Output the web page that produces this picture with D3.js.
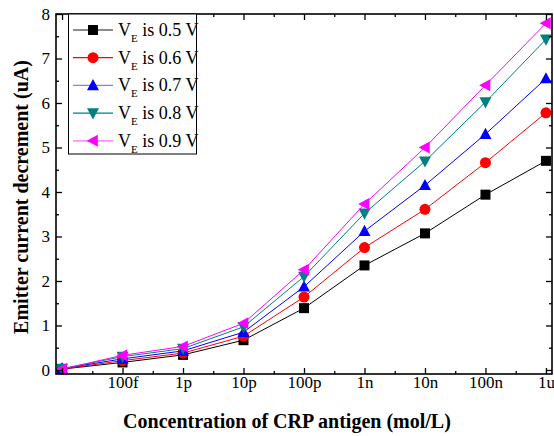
<!DOCTYPE html>
<html><head><meta charset="utf-8">
<script src="https://cdn.jsdelivr.net/npm/d3@7"></script>
<style>body{margin:0;background:#fff}svg{display:block}</style>
</head><body>
<svg id="c" width="554" height="436"></svg>
<script>
const categories = ["", "100f", "1p", "10p", "100p", "1n", "10n", "100n", "1u"];
const seriesNames = ["0.5", "0.6", "0.7", "0.8", "0.9"];
const v05 = [0.02, 0.17, 0.34, 0.67, 1.39, 2.35, 3.07, 3.94, 4.70];
const v06 = [0.02, 0.21, 0.38, 0.76, 1.64, 2.75, 3.61, 4.66, 5.78];
const v07 = [0.03, 0.25, 0.43, 0.85, 1.87, 3.12, 4.15, 5.30, 6.55];
const v08 = [0.03, 0.30, 0.48, 0.97, 2.10, 3.52, 4.69, 6.02, 7.43];
const v09 = [0.02, 0.33, 0.53, 1.05, 2.25, 3.73, 5.00, 6.40, 7.79];
const yTicks = [0, 1, 2, 3, 4, 5, 6, 7, 8];
const colors = ["#000000", "#ff0000", "#0000ff", "#008080", "#ff00ff"];
const legendLineColors = ["#666666", "#ff0000", "#7f7fff", "#008080", "#ff66ff"];
const markers = ["square", "circle", "up", "down", "left"];
const allSeries = [v05, v06, v07, v08, v09];

const svg = d3.select("#c");
const L = 56, R = 552, T = 14, B = 374;
const x = d3.scaleLinear().domain([-0.1, 8.1]).range([L, R]);
const y = d3.scaleLinear().domain([-0.09, 8]).range([B, T]);
const font = '"Liberation Serif","Times New Roman",serif';

function markerPath(type, s) {
  const h = s / 2;
  if (type === "square") return `M${-h},${-h}H${h}V${h}H${-h}Z`;
  if (type === "up") return `M0,${-h*1.05}L${h},${h*0.8}L${-h},${h*0.8}Z`;
  if (type === "down") return `M0,${h*1.05}L${h},${-h*0.8}L${-h},${-h*0.8}Z`;
  if (type === "left") return `M${-h*1.05},0L${h*0.8},${-h}L${h*0.8},${h}Z`;
  return null;
}
function drawMarker(g, type, cx, cy, color) {
  if (type === "circle") {
    g.append("circle").attr("cx", cx).attr("cy", cy).attr("r", 5.5).attr("fill", color);
  } else {
    const s = type === "square" ? 10 : 12;
    g.append("path").attr("d", markerPath(type, s)).attr("transform", `translate(${cx},${cy})`).attr("fill", color);
  }
}

// series
const gData = svg.append("g");
allSeries.forEach((vals, si) => {
  const line = d3.line().x((d, i) => x(i)).y(d => y(d));
  gData.append("path").attr("d", line(vals)).attr("fill", "none").attr("stroke", colors[si]).attr("stroke-width", 1);
  vals.forEach((v, i) => drawMarker(gData, markers[si], x(i), y(v), colors[si]));
});

// axes
const xMajor = d3.range(0, 9);
const xMinor = d3.range(0.5, 8.1, 1);
const yMinor = d3.range(0.5, 8, 1);
function styleAxis(g) {
  g.attr("font-family", null).attr("font-size", null);
  g.select(".domain").remove();
  g.selectAll("line").attr("stroke", "#000").attr("stroke-width", 1.3);
  g.selectAll("text").style("font-family", font).style("font-size", "17px").attr("fill", "#000");
}
const xb = svg.append("g").attr("transform", `translate(0,${B})`)
  .call(d3.axisBottom(x).tickValues(xMajor).tickFormat(i => categories[i]).tickSizeInner(-6).tickPadding(2));
styleAxis(xb);
xb.selectAll("text").attr("dy", "0.71em");
const xbm = svg.append("g").attr("transform", `translate(0,${B})`)
  .call(d3.axisBottom(x).tickValues(xMinor).tickFormat("").tickSizeInner(-3));
styleAxis(xbm);
const xt = svg.append("g").attr("transform", `translate(0,${T})`)
  .call(d3.axisTop(x).tickValues(xMajor).tickFormat("").tickSizeInner(-6));
styleAxis(xt);
const xtm = svg.append("g").attr("transform", `translate(0,${T})`)
  .call(d3.axisTop(x).tickValues(xMinor).tickFormat("").tickSizeInner(-3));
styleAxis(xtm);
const yl = svg.append("g").attr("transform", `translate(${L},0)`)
  .call(d3.axisLeft(y).tickValues(yTicks).tickFormat(d3.format("d")).tickSizeInner(-6).tickPadding(6));
styleAxis(yl);
const ylm = svg.append("g").attr("transform", `translate(${L},0)`)
  .call(d3.axisLeft(y).tickValues(yMinor).tickFormat("").tickSizeInner(-3));
styleAxis(ylm);
const yr = svg.append("g").attr("transform", `translate(${R},0)`)
  .call(d3.axisRight(y).tickValues(yTicks).tickFormat("").tickSizeInner(-6));
styleAxis(yr);
const yrm = svg.append("g").attr("transform", `translate(${R},0)`)
  .call(d3.axisRight(y).tickValues(yMinor).tickFormat("").tickSizeInner(-3));
styleAxis(yrm);

// frame
svg.append("rect").attr("x", L).attr("y", T).attr("width", R - L).attr("height", B - T)
  .attr("fill", "none").attr("stroke", "#000").attr("stroke-width", 1.6);

// axis titles
svg.append("text").attr("x", 287).attr("y", 428).attr("text-anchor", "middle")
  .style("font-family", font).style("font-weight", "bold").style("font-size", "20px")
  .text("Concentration of CRP antigen (mol/L)");
svg.append("text").attr("transform", "translate(28,197) rotate(-90)").attr("text-anchor", "middle")
  .style("font-family", font).style("font-weight", "bold").style("font-size", "20px")
  .text("Emitter current decrement (uA)");

// legend
const lg = svg.append("g");
lg.append("rect").attr("x", 68.5).attr("y", 14).attr("width", 128).attr("height", 140)
  .attr("fill", "#fff").attr("stroke", "#000").attr("stroke-width", 1);
seriesNames.forEach((n, i) => {
  const cy = 30 + i * 27.7;
  lg.append("line").attr("x1", 73).attr("x2", 113).attr("y1", cy).attr("y2", cy)
    .attr("stroke", legendLineColors[i]).attr("stroke-width", 1.3);
  drawMarker(lg, markers[i], 93, cy, colors[i]);
  const t = lg.append("text").attr("x", 118).attr("y", cy + 6)
    .style("font-family", font).style("font-size", "18px").attr("fill", "#000");
  t.append("tspan").text("V");
  t.append("tspan").style("font-size", "11px").attr("dy", 6).text("E");
  t.append("tspan").attr("dy", -6).text(" is " + n + " V");
});
</script>
</body></html>
